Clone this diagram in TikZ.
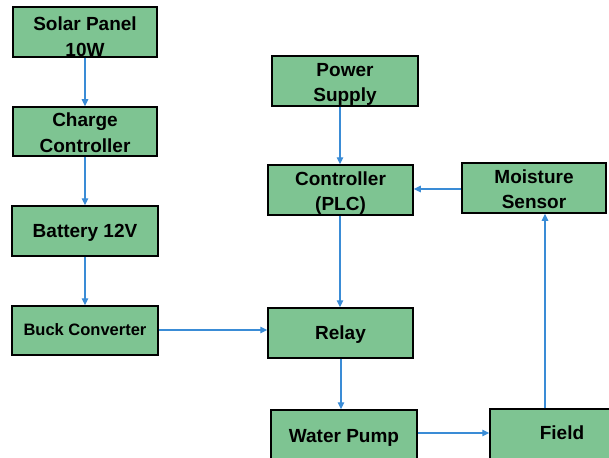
\documentclass[tikz,border=0pt]{standalone}
\usepackage{fontspec}
\setmainfont{Liberation Sans}
\usetikzlibrary{arrows.meta,calc}
\definecolor{boxfill}{RGB}{126,196,146}
\definecolor{arrblue}{RGB}{58,140,214}
\newcommand\blktxt[2][6.5]{\raisebox{-#1pt}[0pt][0pt]{\begin{tabular}{@{}c@{}}#2\end{tabular}}}
\begin{document}
\begin{tikzpicture}[x=1pt,y=-1pt,
  blk/.style={draw=black,line width=1.5pt,fill=boxfill,minimum width=144pt,minimum height=50pt,
    inner sep=0pt,font=\bfseries\fontsize{19}{25.5}\selectfont},
  arr/.style={draw=arrblue,line width=1.3pt,-{Triangle[length=7pt,width=6.5pt]}}]
\useasboundingbox (0,0) rectangle (609,457);
\clip (0,0) rectangle (609,457);
\node[blk] (solar) at (85,32) {\blktxt[10.5]{Solar Panel\\10W}};
\node[blk,minimum height=49pt] (charge) at (85,131.5) {\blktxt[7]{Charge\\Controller}};
\node[blk,minimum width=146pt] (battery) at (85,231) {\blktxt[6]{Battery 12V}};
\node[blk,minimum width=146pt,minimum height=49pt,font=\bfseries\fontsize{16.5}{20}\selectfont] (buck) at (85,330.5) {\blktxt[5.5]{Buck Converter}};
\node[blk,minimum width=146pt] (power) at (345,81) {\blktxt[7]{Power\\Supply}};
\node[blk,minimum width=145pt] (plc) at (340.5,190) {\blktxt[7]{Controller\\(PLC)}};
\node[blk] (moist) at (534,188) {\blktxt[7]{Moisture\\Sensor}};
\node[blk,minimum width=145pt] (relay) at (340.5,333) {\blktxt[6]{Relay}};
\node[blk,minimum width=146pt] (pump) at (344,435) {\blktxt[6.5]{Water Pump}};
\node[blk] (field) at (562,434) {\blktxt[5]{Field}};
\coordinate (ms) at ([xshift=11pt]moist.south);
\coordinate (pn) at ([xshift=-5pt]power.south);
\coordinate (ps) at ([xshift=-0.5pt]plc.south);
\coordinate (rs) at ([xshift=0.5pt]relay.south);
\coordinate (be) at ([yshift=0.5pt]buck.east);
\draw[arr] (solar) -- (charge);
\draw[arr] (charge) -- (battery);
\draw[arr] (battery) -- (buck);
\draw[arr] (pn) -- (pn |- plc.north);
\draw[arr] (ps) -- (ps |- relay.north);
\draw[arr] (moist.west |- 0,189) -- (plc.east |- 0,189);
\draw[arr] (be) -- (be -| relay.west);
\draw[arr] (rs) -- (rs |- pump.north);
\draw[arr] (pump.east |- 0,433) -- (field.west |- 0,433);
\draw[arr] (ms |- field.north) -- (ms);
\end{tikzpicture}
\end{document}
